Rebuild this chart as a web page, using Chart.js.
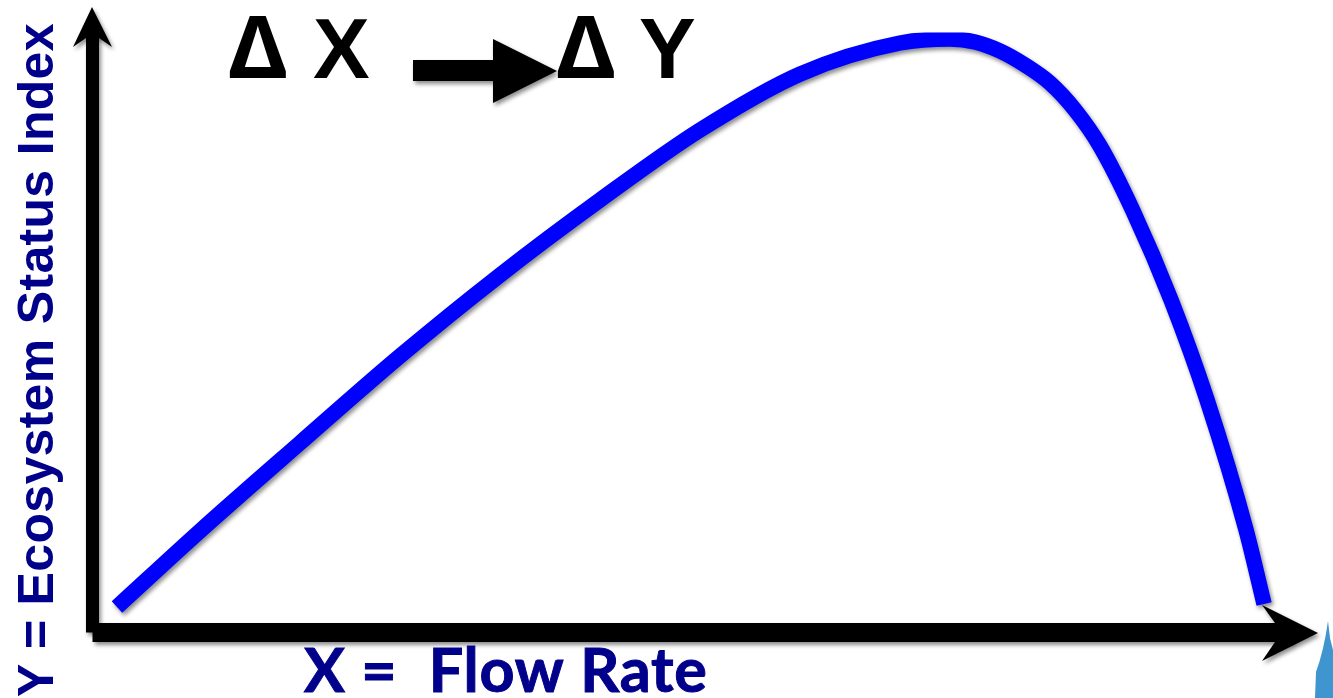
<!DOCTYPE html>
<html>
<head>
<meta charset="utf-8">
<title>Ecosystem status index vs flow rate</title>
<script src="https://cdn.jsdelivr.net/npm/chart.js@4/dist/chart.umd.js"></script>
<style>
  html, body { margin: 0; padding: 0; background: #fff; }
  canvas { display: block; }
</style>
</head>
<body>
<canvas id="flowChart" width="1333" height="698"></canvas>
<script>
// axes have no units so both run 0-100
const flowRate = [2.04, 8.96, 17.29, 25.63, 33.96, 42.29, 50.63, 58.96, 67.29, 71.46, 73.54, 75.63, 77.71, 79.79, 81.88, 83.96, 86.71, 89.88, 92.88, 96.13, 97.63];
const statusIndex = [4.25, 16.92, 31.58, 46.08, 59.58, 72.08, 83.75, 93.08, 98.25, 98.92, 98.42, 96.92, 94.58, 91.58, 87.08, 81.08, 70.25, 55.42, 38.75, 17.08, 4.75];

const xTitle = 'X =  Flow Rate';
const yTitle = 'Y = Ecosystem Status Index';
const deltaSign = 'Δ';
const deltaX = 'X';
const deltaY = 'Y';

const navy = '#00008b';
const curveBlue = '#0000ff';

function polygon(ctx, pts, color) {
  ctx.fillStyle = color;
  ctx.beginPath();
  pts.forEach(function (p, i) {
    if (i == 0) ctx.moveTo(p[0], p[1]);
    else ctx.lineTo(p[0], p[1]);
  });
  ctx.closePath();
  ctx.fill();
}

const slideDecor = {
  id: 'slideDecor',
  beforeDatasetsDraw: function (chart) {
    // shadow stays on for the axes, arrows and the curve
    const ctx = chart.ctx;
    const area = chart.chartArea;
    ctx.save();
    ctx.shadowColor = 'rgba(0,0,0,0.45)';
    ctx.shadowOffsetX = 2;
    ctx.shadowOffsetY = 3;
    ctx.shadowBlur = 4;

    // axis shafts, the vertical one stops where the horizontal one begins
    ctx.fillStyle = '#000';
    ctx.fillRect(area.left - 6.5, area.top, 13, area.bottom - area.top);
    ctx.fillRect(area.left, area.bottom - 9.5, area.right - area.left, 19);

    polygon(ctx, [[92, 7], [112, 47], [99, 38], [86, 38], [73, 47]], '#000');
    polygon(ctx, [[1318, 633], [1262, 661], [1275, 642], [1275, 623], [1262, 605]], '#000');
    polygon(ctx, [[413, 60], [493, 60], [493, 39], [557, 71], [493, 103], [493, 81], [413, 81]], '#000');
  },
  afterDatasetsDraw: function (chart) {
    chart.ctx.restore();
  },
  afterDraw: function (chart) {
    const ctx = chart.ctx;
    ctx.save();
    ctx.textAlign = 'left';
    ctx.textBaseline = 'alphabetic';

    ctx.fillStyle = '#000';
    ctx.font = 'bold 86px "Noto Sans"';
    ctx.fillText(deltaSign, 229, 78);
    ctx.fillText(deltaSign, 557, 78);
    ctx.font = 'bold 85px "Liberation Sans"';
    ctx.fillText(deltaX, 313, 78);
    ctx.fillText(deltaY, 639, 78);

    ctx.fillStyle = navy;
    ctx.strokeStyle = navy;
    ctx.lineWidth = 1;
    ctx.font = 'bold 61px Lato';
    ctx.letterSpacing = '0.8px';
    ctx.fillText(xTitle, 304, 692);
    ctx.strokeText(xTitle, 304, 692);

    ctx.save();
    ctx.translate(53, 697);
    ctx.rotate(-Math.PI / 2);
    ctx.font = 'bold 50px "Liberation Sans"';
    ctx.letterSpacing = '0.32px';
    ctx.fillText(yTitle, 0, 0);
    ctx.restore();

    // piece of the water drop clipart in the corner
    ctx.fillStyle = '#3f95cf';
    ctx.beginPath();
    ctx.moveTo(1328, 621);
    ctx.quadraticCurveTo(1324, 650, 1316, 672);
    ctx.lineTo(1315, 698);
    ctx.lineTo(1333, 698);
    ctx.lineTo(1333, 650);
    ctx.lineTo(1330, 638);
    ctx.closePath();
    ctx.fill();
    ctx.restore();
  }
};

const points = flowRate.map(function (x, i) {
  return { x: x, y: statusIndex[i] };
});

new Chart(document.getElementById('flowChart').getContext('2d'), {
  type: 'line',
  data: {
    datasets: [{
      data: points,
      borderColor: curveBlue,
      borderWidth: 15.5,
      borderCapStyle: 'butt',
      cubicInterpolationMode: 'monotone',
      pointRadius: 0,
      fill: false
    }]
  },
  options: {
    responsive: false,
    animation: false,
    layout: { padding: { left: 92.5, right: 40.5, top: 32.5, bottom: 65.5 } },
    plugins: {
      legend: { display: false },
      title: { display: false },
      tooltip: { enabled: false }
    },
    scales: {
      x: {
        type: 'linear',
        min: 0,
        max: 100,
        ticks: { display: false },
        grid: { display: false, drawTicks: false },
        border: { display: false }
      },
      y: {
        min: 0,
        max: 100,
        ticks: { display: false },
        grid: { display: false, drawTicks: false },
        border: { display: false }
      }
    }
  },
  plugins: [slideDecor]
});
</script>
</body>
</html>
